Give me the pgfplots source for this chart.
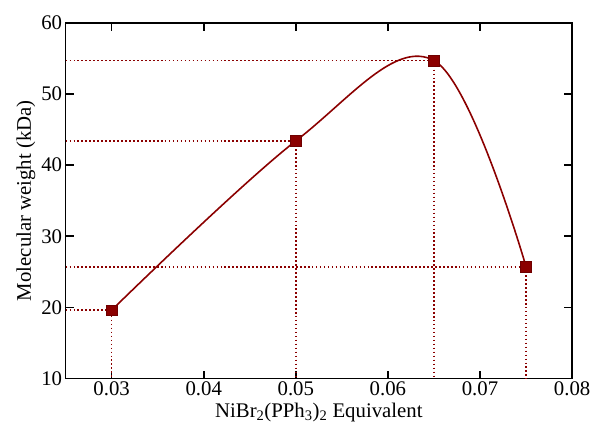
\documentclass[border=0pt]{standalone}
\usepackage{pgfplots}
\pgfplotsset{compat=1.18}
\usepackage{fontspec}
\setmainfont{Liberation Serif}
\definecolor{dred}{RGB}{139,0,0}
\begin{document}
\begin{tikzpicture}
\useasboundingbox (-66bp,-55bp) rectangle (531bp,381bp);
\begin{axis}[
    at={(0,0)}, anchor=south west,
    scale only axis,
    width=510bp, height=358bp,
    xmin=0.025, xmax=0.08,
    ymin=10, ymax=60,
    xtick={0.03,0.04,0.05,0.06,0.07,0.08},
    xticklabels={0.03,0.04,0.05,0.06,0.07,0.08},
    scaled ticks=false,
    ytick={10,20,30,40,50,60},
    tick align=inside,
    major tick length=8bp,
    axis line style={line width=1.6bp},
    every tick/.style={black, line width=1.6bp},
    /pgf/number format/assume math mode=true,
    tick label style={font=\fontsize{21}{25}\selectfont},
    label style={font=\fontsize{21}{25}\selectfont},
    xlabel={NiBr\textsubscript{2}(PPh\textsubscript{3})\textsubscript{2} Equivalent},
    ylabel={Molecular weight (kDa)},
    xlabel style={yshift=0bp},
    ylabel style={yshift=-1bp},
    clip=false,
]
% guide lines to the axes
\addplot[dred, dash pattern=on 1.6bp off 2.4bp, line width=1.6bp] coordinates {(0.025,19.6) (0.03,19.6) (0.03,10)};
\addplot[dred, dash pattern=on 1.6bp off 2.4bp, line width=1.6bp] coordinates {(0.025,43.4) (0.05,43.4) (0.05,10)};
\addplot[dred, dash pattern=on 1.6bp off 2.4bp, line width=1.6bp] coordinates {(0.025,54.7) (0.065,54.7) (0.065,10)};
\addplot[dred, dash pattern=on 1.6bp off 2.4bp, line width=1.6bp] coordinates {(0.025,25.7) (0.075,25.7) (0.075,10)};
% fitted curve
\addplot[dred, line width=1.6bp, smooth, tension=0.6] coordinates {
    (0.03,19.6) (0.05,43.4) (0.065,54.7) (0.075,25.7)
};
% data points
\addplot[only marks, mark=square*, mark size=5.5bp,
    mark options={fill=dred, draw=dred!80!black}] coordinates {
    (0.03,19.6) (0.05,43.4) (0.065,54.7) (0.075,25.7)
};
\end{axis}
\end{tikzpicture}
\end{document}
